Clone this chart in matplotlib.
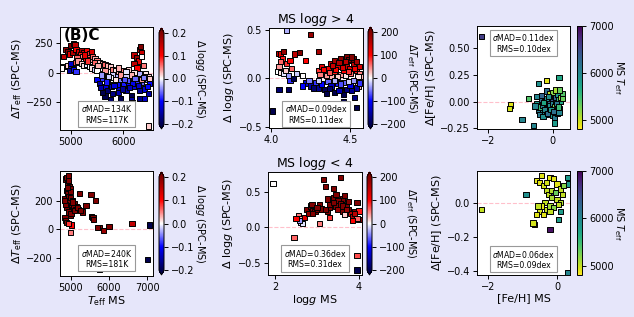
import matplotlib
matplotlib.use("Agg")
import matplotlib.pyplot as plt
import numpy as np

# ---------------- data ----------------
# Top-left: MS Teff vs dTeff, colour = dlogg  (MS logg > 4)
tl_teff = [4870,4900,4950,5000,5050,5080,4980,5030,5100,5150,5200,5250,5300,5350,5400,5180,5120,5220,5280,5330,
           5380,5420,5460,5500,5550,5600,5650,5700,5750,5800,5850,5900,5950,6000,
           4900,4950,5000,5060,5100,5140,5200,5250,5300,5350,5400,5450,5500,4850,4820,
           5000,4980,5050,5000,5100,
           5500,5550,5600,5650,5700,5750,5800,5850,5900,5950,6000,6050,6100,6150,6200,6250,6300,6350,6400,6450,6500,
           5650,5750,5950,6150,6180,5600,5850,6000,6050,6100,6250,6350,6420,6480,5900,5700,6300,6030,6400,6470,
           6200,6250,6300,6320,6350,6280,6200,6380,6260,6340,
           6480,
           5600,5700,5800,5900,6000,6100,6200,6300,6400,6500,5650,5750,5850,5950,6050,6150,6350,
           5260,5320,5450,5520,5580,5680,5780,5880,5980,6080,6180,6280,6380,6450,5560,5720,5820,6020,6120,6220]
tl_dteff = [140,200,180,230,250,240,160,170,200,180,190,170,190,160,180,150,130,140,120,130,
            110,140,120,100,90,80,70,60,50,30,20,10,0,-10,
            50,60,40,80,90,100,80,60,70,50,40,30,20,50,40,
            40,20,30,80,10,
            -60,-90,-50,-120,-150,-100,-180,-80,-130,-60,-100,-150,-50,-200,-120,-90,-150,-80,-140,-60,-90,
            -200,-230,-220,-230,-260,-170,-30,-40,-30,-100,-40,-20,-10,-30,-170,-70,-220,-346,-220,-180,
            150,130,200,220,170,100,80,60,40,140,
            -455,
            -10,10,-20,40,20,30,0,-10,-30,-50,20,-40,-60,-20,10,-20,-60,
            150,100,90,60,-20,-80,-120,-100,-140,-70,-90,-110,-40,-120,-130,-30,-110,-60,-130,-50]
tl_dlogg = [0.15,0.18,0.2,0.2,0.18,0.15,0.12,0.16,0.1,0.14,0.17,0.12,0.1,0.08,0.13,0.09,0.06,0.05,0.1,0.07,
            0.04,0.06,0.03,0.05,0.02,0.04,0.06,0.03,0.02,0.05,0.01,0.03,0.02,0.04,
            0.05,0.02,0.0,0.03,0.07,0.04,0.02,0.01,-0.01,0.0,0.01,-0.02,0.0,0.0,0.0,
            -0.12,-0.15,-0.1,-0.13,-0.08,
            -0.1,-0.15,-0.08,-0.12,-0.18,-0.1,-0.17,-0.06,-0.13,-0.05,-0.09,-0.15,-0.04,-0.2,-0.12,-0.08,-0.16,-0.06,-0.12,-0.05,-0.1,
            -0.2,-0.18,-0.2,-0.15,-0.2,-0.2,-0.03,-0.06,-0.02,-0.1,-0.03,-0.02,0.01,0.02,-0.14,-0.05,-0.17,-0.05,-0.13,-0.15,
            0.15,0.18,0.17,0.2,0.14,0.12,0.15,0.05,0.1,0.0,
            0.02,
            0.02,0.0,-0.02,0.03,0.05,0.02,0.01,-0.03,0.03,0.02,0.04,0.0,0.01,0.04,-0.01,0.03,0.04,
            0.12,0.08,0.06,0.03,-0.04,-0.09,-0.14,-0.1,-0.16,-0.07,-0.11,-0.13,-0.05,-0.1,-0.15,-0.02,-0.12,-0.07,-0.14,-0.06]

# Top-middle: MS logg vs dlogg, colour = dTeff
tm_logg = [4.05,4.06,4.08,4.07,4.06,4.05,4.04,4.06,4.08,4.09,4.10,4.12,4.15,4.18,4.13,4.11,4.12,4.14,4.16,4.20,4.10,4.25,4.30,4.22,
           4.05,4.11,4.01,4.33,4.46,4.54,4.53,4.09,
           4.30,4.32,4.34,4.36,4.38,4.40,4.40,4.42,4.44,4.44,4.46,4.46,4.48,4.48,4.50,4.50,4.50,4.52,4.52,4.54,4.54,4.56,4.56,4.58,
           4.57,4.55,4.42,4.38,4.35,4.47,4.49,4.51,4.53,4.45,4.43,4.41,4.39,4.37,4.33,4.31,4.47,4.49,4.55,
           4.22,4.25,4.28,4.30,4.32,4.34,4.36,4.38,4.40,4.42,4.44,4.46,4.48,4.50,4.52,4.54,4.40,4.46,4.35,4.27,4.24,4.30,4.44,4.49,
           4.37,4.43,4.51,4.20,4.56]
tm_dlogg = [0.26,0.25,0.28,0.20,0.17,0.12,0.07,0.06,0.05,0.08,0.15,0.18,0.25,0.27,0.10,0.03,-0.02,0.00,0.05,0.03,0.50,0.45,0.28,0.18,
            -0.12,-0.12,-0.34,-0.48,-0.24,-0.30,-0.20,-0.27,
            0.08,0.12,0.05,0.10,0.15,0.07,0.18,0.12,0.04,0.20,0.15,0.08,0.22,0.12,0.18,0.05,0.10,0.20,0.14,0.08,0.17,0.12,0.05,0.02,
            -0.03,-0.08,0.02,0.02,0.03,0.03,0.19,0.22,0.10,0.11,0.16,0.09,0.13,0.06,0.09,0.04,0.17,0.07,0.02,
            -0.05,-0.08,-0.04,-0.10,-0.06,-0.12,-0.03,-0.08,-0.15,-0.05,-0.10,-0.04,-0.12,-0.07,-0.02,-0.10,-0.02,-0.17,-0.16,-0.10,-0.02,-0.02,-0.06,-0.03,
            -0.11,-0.13,-0.13,-0.08,-0.05]
tm_dteff = [150,120,180,90,60,40,0,10,-10,20,80,100,150,200,60,-40,-80,-200,-20,0,-30,180,170,100,
            -180,-190,-230,-210,-200,-210,-170,-150,
            80,120,60,110,150,90,170,130,40,190,160,100,200,140,180,60,120,200,150,90,170,130,50,30,
            20,30,20,30,40,10,190,200,110,130,160,100,140,70,100,50,150,80,10,
            -120,-150,-80,-160,-100,-190,-60,-130,-200,-90,-150,-60,-170,-110,-40,-150,-30,-220,-200,-180,-50,-20,-70,-20,
            -180,-140,-160,-100,-80]

# Top-right: MS [Fe/H] vs d[Fe/H], colour = MS Teff
tr_feh = [-2.2,-0.6,-1.3,-1.35,-0.95,-0.6,-0.45,-0.2,0.2,-0.2,-0.5,-0.75,0.05,
          -0.5,-0.45,-0.4,-0.35,-0.3,-0.3,-0.25,-0.2,-0.2,-0.15,-0.15,-0.1,-0.1,-0.05,-0.05,0.0,0.0,0.0,0.05,0.05,0.1,0.1,
          0.1,0.15,0.15,0.2,0.2,0.25,0.25,0.3,-0.4,-0.3,-0.25,-0.1,0.0,0.05,0.15,-0.55,-0.35,-0.2,0.1,0.2,0.3,-0.15,-0.05,
          0.12,0.22,-0.28,0.02,-0.12,0.18]
tr_dfeh = [0.61,0.65,-0.03,-0.06,-0.17,-0.22,0.17,0.20,0.23,0.10,0.05,0.03,-0.20,
           -0.02,-0.08,-0.05,0.02,-0.1,-0.03,0.0,-0.12,-0.06,0.03,-0.09,0.0,-0.04,0.07,-0.1,-0.02,0.03,-0.13,-0.05,0.05,-0.08,0.0,
           0.04,-0.03,0.07,0.02,-0.06,0.0,0.04,0.03,-0.12,-0.14,-0.07,0.08,0.09,-0.15,-0.11,-0.04,0.06,0.03,0.11,-0.1,0.08,-0.11,-0.07,
           -0.02,0.11,-0.01,-0.09,0.05,-0.05]
tr_teff = [6600,4900,4900,4950,6000,6000,5900,4900,5700,6200,6000,5400,5800,
           5800,6100,5500,6200,5900,6000,5300,6400,5700,6100,5100,6300,5900,6200,5600,6000,6400,5800,5200,6100,6000,5400,
           6300,5000,5800,5500,6200,5700,5100,5300,6100,5900,6000,5000,5200,6100,5600,6000,6300,5900,5100,6000,5400,6200,5800,
           6100,5300,5700,6200,5900,5500]

# Bottom-left: MS Teff vs dTeff, colour = dlogg  (MS logg < 4)
bl_teff = [4850,4870,4900,4950,4930,4960,4980,4900,4920,4940,4880,4860,4900,4950,5000,5050,5100,5150,5200,4980,
           5020,5060,4900,4870,4950,4990,5010,5080,5120,5000,4950,4910,5040,5100,5180,4830,
           5230,5530,5650,5400,5300,5250,5550,5580,5600,5750,5850,6000,5700,6600,4850,4870,4900,
           5020,5000,4950,7050,7000,5750]
bl_dteff = [210,350,360,370,320,300,280,270,250,230,200,190,180,200,220,200,180,160,140,150,
            130,140,150,170,120,100,110,160,140,260,340,290,190,130,150,200,
            250,240,200,165,120,130,90,80,70,10,-10,20,10,40,80,60,50,
            30,-20,40,30,-210,-280]
bl_dlogg = [0.25]*36 + [0.25,0.25,0.25,0.25,0.22,0.25,0.2,0.25,0.25,0.25,0.18,0.22,0.25,0.15,0.22,0.2,0.2,
            0.1,0.05,0.08,-0.3,-0.3,-0.3]

# Bottom-middle: MS logg vs dlogg, colour = dTeff
bm_logg = [1.95,2.45,3.95,3.95,2.55,2.60,2.62,2.65,2.58,2.50,2.70,2.75,2.80,2.85,2.90,2.88,2.95,3.00,3.05,3.10,
           3.15,3.20,3.25,3.30,3.35,3.40,3.40,3.45,3.50,3.55,3.60,3.60,3.65,3.70,3.75,3.80,3.85,3.90,3.95,4.00,
           3.95,4.00,3.05,3.30,3.45,3.50,3.25,3.30,3.65,3.75,3.55,2.90,3.00,3.20,3.40,3.60,3.70,3.85,3.90]
bm_dlogg = [0.62,-0.14,-0.39,-0.60,0.17,0.12,0.07,0.05,0.10,0.13,0.14,0.25,0.20,0.30,0.24,0.32,0.22,0.25,0.32,0.26,
            0.68,0.58,0.22,0.28,0.35,0.42,0.55,0.30,0.25,0.70,0.40,0.22,0.18,0.30,0.25,0.20,0.15,0.22,0.35,0.11,
            0.12,0.23,0.06,0.14,0.46,0.38,0.40,0.32,0.45,0.36,0.33,0.20,0.28,0.25,0.35,0.30,0.25,0.10,0.20]
bm_dteff = [0,60,70,-220,50,30,-20,-10,-40,100,120,200,180,200,200,200,200,200,200,200,
            220,200,200,200,200,200,200,200,180,200,200,200,20,200,200,150,160,200,200,200,
            60,90,50,80,200,200,200,200,200,200,200,200,200,200,200,200,180,100,150]

# Bottom-right: MS [Fe/H] vs d[Fe/H], colour = MS Teff
br_feh = [-2.2,-0.9,-0.2,-0.2,0.3,0.1,0.05,-0.15,0.3,0.35,
          -0.6,-0.5,-0.45,-0.4,-0.2,-0.1,0.0,0.1,-0.3,-0.25,-0.15,0.0,0.1,-0.35,-0.45,-0.5,-0.4,-0.3,-0.2,-0.1,
          0.05,-0.6,-0.65,-0.7,-0.55,-0.15,0.15,-0.05,0.2,-0.3,-0.2]
br_dfeh = [-0.04,0.05,-0.16,-0.28,-0.41,-0.05,-0.10,0.05,0.15,0.11,
           0.13,0.12,0.16,0.10,0.15,0.14,0.11,0.08,0.07,0.05,0.03,0.02,0.0,0.0,-0.02,-0.05,-0.07,-0.04,-0.02,-0.03,
           -0.01,-0.07,-0.13,-0.12,-0.02,0.07,0.05,0.06,0.10,0.12,-0.05]
br_teff = [5000,5900,6900,6500,6000,5800,5800,6500,5800,5800,
           4900,4900,4900,4950,4900,4900,4900,5000,5000,5000,5100,5000,5050,5000,4900,4950,4900,5000,5100,5200,
           5000,4900,4900,4950,5000,5050,5000,5300,5200,4950,5000]

# ---------------- figure ----------------
W, H = 634, 317
fig = plt.figure(figsize=(W / 100, H / 100), dpi=100)
fig.patch.set_facecolor("#e6e6fa")
plt.rcParams["font.family"] = "DejaVu Sans"
plt.rcParams["mathtext.fontset"] = "dejavusans"


def px_axes(l, t, r, b):
    return fig.add_axes([l / W, 1 - b / H, (r - l) / W, (b - t) / H])


def panel(rect, crect, x, y, c, cmap, vmin, vmax, extend, xlim, ylim, xticks, yticks,
          ylabel, clabel, cticks, box, boxy, xlabel=None, title=None):
    ax = px_axes(*rect)
    ax.set_facecolor("white")
    ax.axhline(0, color="pink", ls="--", lw=0.8, zorder=1)
    sc = ax.scatter(x, y, c=c, cmap=cmap, vmin=vmin, vmax=vmax, marker="s", s=14,
                    edgecolors="black", linewidths=0.7, zorder=2)
    ax.set_xlim(*xlim)
    ax.set_ylim(*ylim)
    ax.set_xticks(xticks)
    ax.set_yticks(yticks)
    ax.tick_params(labelsize=7, length=3, width=0.7, pad=2)
    for s in ax.spines.values():
        s.set_linewidth(0.7)
    ax.set_ylabel(ylabel, fontsize=8, labelpad=2)
    if xlabel:
        ax.set_xlabel(xlabel, fontsize=8, labelpad=1)
    if title:
        ax.set_title(title, fontsize=9, pad=3)
    ax.text(0.5, boxy, box, transform=ax.transAxes, ha="center", va="center", fontsize=5.6,
            bbox=dict(boxstyle="square,pad=0.3", facecolor="white", edgecolor="#999999", lw=0.8),
            zorder=5)
    cax = px_axes(*crect)
    cb = fig.colorbar(sc, cax=cax, extend=extend)
    cb.set_ticks(cticks)
    cb.ax.tick_params(labelsize=7, length=3, width=0.7, pad=2)
    cb.outline.set_linewidth(0.7)
    cb.set_label(clabel, fontsize=7, rotation=270, labelpad=9)
    return ax


ax_tl = panel((60, 27, 153, 130), (159, 28, 164, 129), tl_teff, tl_dteff, tl_dlogg, "seismic",
              -0.2, 0.2, "both", (4797, 6562), (-490, 390), [5000, 6000], [-250, 0, 250],
              r"$\Delta T_{\rm eff}$ (SPC-MS)", r"$\Delta$ log$g$ (SPC-MS)",
              [-0.2, -0.1, 0.0, 0.1, 0.2], "$\\sigma$MAD=134K\nRMS=117K", 0.155)
ax_tl.text(0.04, 0.99, "(B)C", transform=ax_tl.transAxes, fontsize=11, fontweight="bold",
           ha="left", va="top", zorder=6)

panel((269, 28, 363, 128), (368, 27, 373, 129), tm_logg, tm_dlogg, tm_dteff, "seismic",
      -200, 200, "both", (3.987, 4.582), (-0.515, 0.52), [4.0, 4.5], [-0.5, 0.0, 0.5],
      r"$\Delta$ log$g$ (SPC-MS)", r"$\Delta T_{\rm eff}$ (SPC-MS)",
      [-200, -100, 0, 100, 200], "$\\sigma$MAD=0.09dex\nRMS=0.11dex", 0.14,
      title=r"MS log$g$ > 4")

panel((477, 26, 570, 129), (577, 26, 582, 129), tr_feh, tr_dfeh, tr_teff, "viridis_r",
      4800, 7000, "neither", (-2.35, 0.54), (-0.256, 0.71), [-2, 0], [-0.25, 0.0, 0.25, 0.5],
      r"$\Delta$[Fe/H] (SPC-MS)", r"MS $T_{\rm eff}$",
      [5000, 6000, 7000], "$\\sigma$MAD=0.11dex\nRMS=0.10dex", 0.835)

panel((60, 171, 153, 276), (159, 172, 164, 275), bl_teff, bl_dteff, bl_dlogg, "seismic",
      -0.2, 0.2, "both", (4721, 7148), (-324, 405), [5000, 6000, 7000], [-200, 0, 200],
      r"$\Delta T_{\rm eff}$ (SPC-MS)", r"$\Delta$ log$g$ (SPC-MS)",
      [-0.2, -0.1, 0.0, 0.1, 0.2], "$\\sigma$MAD=240K\nRMS=181K", 0.167,
      xlabel=r"$T_{\rm eff}$ MS")

panel((268, 172, 362, 275), (367, 172, 372, 275), bm_logg, bm_dlogg, bm_dteff, "seismic",
      -200, 200, "both", (1.833, 4.071), (-0.67, 0.78), [2, 4], [-0.5, 0.0, 0.5],
      r"$\Delta$ log$g$ (SPC-MS)", r"$\Delta T_{\rm eff}$ (SPC-MS)",
      [-200, -100, 0, 100, 200], "$\\sigma$MAD=0.36dex\nRMS=0.31dex", 0.16,
      xlabel=r"log$g$ MS", title=r"MS log$g$ < 4")

panel((477, 171, 570, 275), (577, 171, 582, 275), br_feh, br_dfeh, br_teff, "viridis_r",
      4800, 7000, "neither", (-2.33, 0.38), (-0.426, 0.186), [-2, 0], [-0.4, -0.2, 0.0],
      r"$\Delta$[Fe/H] (SPC-MS)", r"MS $T_{\rm eff}$",
      [5000, 6000, 7000], "$\\sigma$MAD=0.06dex\nRMS=0.09dex", 0.15,
      xlabel="[Fe/H] MS")

fig.savefig("out.png", dpi=100, facecolor=fig.get_facecolor())
